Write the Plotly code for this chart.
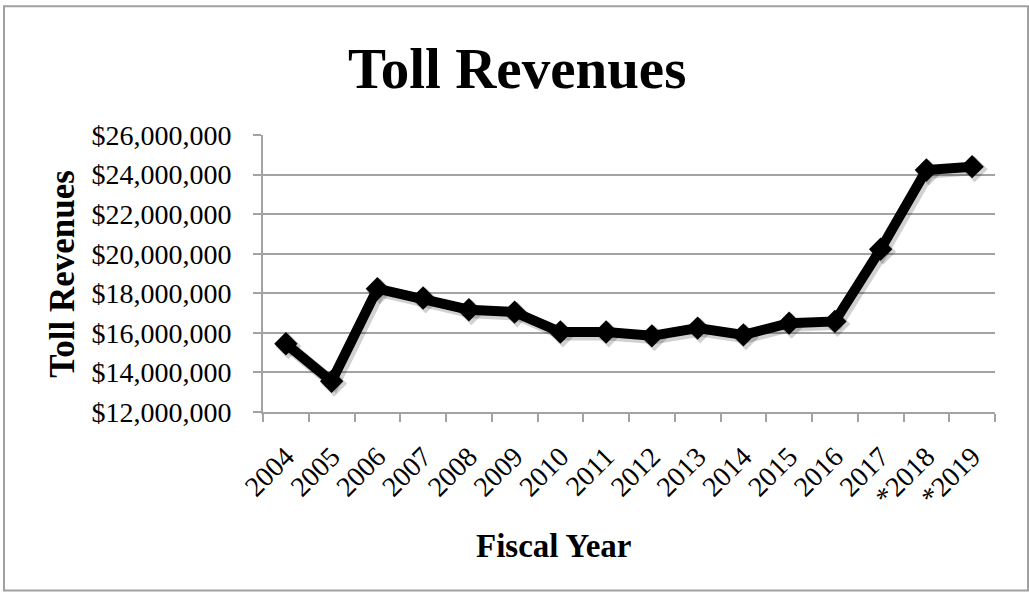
import plotly.graph_objects as go

years = ["2004", "2005", "2006", "2007", "2008", "2009", "2010", "2011",
         "2012", "2013", "2014", "2015", "2016", "2017", "*2018", "*2019"]
revenues = [15450000, 13550000, 18230000, 17760000, 17170000, 17050000,
            16040000, 16040000, 15850000, 16240000, 15900000, 16490000,
            16580000, 20230000, 24230000, 24400000]
y_ticks = [12000000, 14000000, 16000000, 18000000, 20000000, 22000000,
           24000000, 26000000]

FONT = "Liberation Serif"
GRID = "#a3a3a3"

# plot area in pixels
L, R, T, B = 263, 995, 135, 412.3
PW, PH = R - L, B - T
Y0, Y1 = 12000000, 26000000
px_per_cat = PW / 16
px_per_val = PH / (Y1 - Y0)
sh = 2.5  # shadow offset in px

fig = go.Figure()
# soft drop shadow
fig.add_trace(go.Scatter(
    x=years, y=revenues, mode="lines+markers", xaxis="x2", yaxis="y2",
    line=dict(color="rgba(0,0,0,0.18)", width=12),
    marker=dict(symbol="diamond", size=20, color="rgba(0,0,0,0.18)"),
    showlegend=False, cliponaxis=False, hoverinfo="skip",
))
fig.add_trace(go.Scatter(
    x=years, y=revenues, mode="lines+markers",
    line=dict(color="black", width=10),
    marker=dict(symbol="diamond", size=18, color="black"),
    showlegend=False, cliponaxis=False,
))

fig.update_layout(
    width=1029, height=592,
    margin=dict(l=L, r=1029 - R, t=T, b=592 - B),
    paper_bgcolor="white", plot_bgcolor="white",
    font=dict(family=FONT, color="black"),
    xaxis=dict(
        type="category", range=[-0.5, 15.5],
        showgrid=False, showline=True, linecolor=GRID, linewidth=2,
        ticks="outside", ticklen=8, tickcolor=GRID, tickwidth=2,
        tickson="boundaries", ticklabelstandoff=15,
        tickangle=-45, tickfont=dict(family=FONT, size=28, color="black"),
    ),
    yaxis=dict(
        range=[Y0, Y1], tickvals=y_ticks,
        ticktext=["${:,}".format(v) for v in y_ticks],
        showgrid=True, gridcolor=GRID, gridwidth=2,
        showline=True, linecolor=GRID, linewidth=2,
        ticks="outside", ticklen=8, tickcolor=GRID, tickwidth=2,
        ticklabelstandoff=16,
        tickfont=dict(family=FONT, size=28, color="black"),
        zeroline=False,
    ),
    xaxis2=dict(type="category", overlaying="x", visible=False,
                range=[-0.5 - sh / px_per_cat, 15.5 - sh / px_per_cat],
                categoryarray=years, categoryorder="array"),
    yaxis2=dict(overlaying="y", visible=False,
                range=[Y0 + sh / px_per_val, Y1 + sh / px_per_val]),
    shapes=[dict(type="rect", xref="paper", yref="paper",
                 x0=(4 - L) / PW, x1=(1028 - L) / PW,
                 y0=(B - 591) / PH, y1=(B - 6) / PH,
                 line=dict(color="#a0a0a0", width=2), layer="below")],
)

def ann(text, px, py, size, angle=0):
    fig.add_annotation(text=text, x=(px - L) / PW, y=(B - py) / PH,
                       xref="paper", yref="paper", showarrow=False,
                       xanchor="center", yanchor="middle", textangle=angle,
                       font=dict(family=FONT, size=size, color="black"))

ann("<b>Toll Revenues</b>", 517, 68, 57)
ann("<b>Toll Revenues</b>", 63, 274, 35, -90)
ann("<b>Fiscal Year</b>", 553, 546, 33)

fig.write_html("out.html")
